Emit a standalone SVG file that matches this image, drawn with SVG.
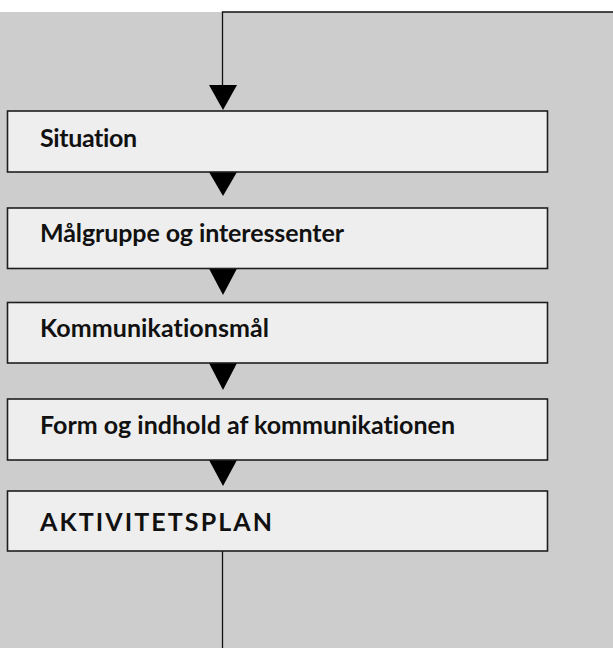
<svg xmlns="http://www.w3.org/2000/svg" width="613" height="648" viewBox="0 0 613 648">
<style>
.bg{fill:#cdcdcd}
.box{fill:#eeeeee;stroke:#1e1e1e;stroke-width:1.6}
.lbl{font-family:Lato,"Open Sans","Liberation Sans",sans-serif;font-weight:700;font-size:25px;fill:#111;font-variant-ligatures:none;font-feature-settings:"liga" 0}
.line{stroke:#111;stroke-width:1.3;fill:none}
.head{fill:#000}
</style>
<rect class="bg" x="0" y="12" width="613" height="636"/>
<g id="connectors">
<polyline class="line" points="613,12 222.5,12 222.5,86"/>
<polygon class="head" points="209,85 237,85 223,110"/>
<polygon class="head" points="209,172 237,172 223,196"/>
<polygon class="head" points="209,268.5 237,268.5 223,295"/>
<polygon class="head" points="209,363 237,363 223,390"/>
<polygon class="head" points="209,460 237,460 223,486"/>
<line class="line" x1="222.5" y1="551" x2="222.5" y2="648"/>
</g>
<g id="situation">
<rect class="box" x="7.5" y="111" width="540" height="61"/>
<text class="lbl" x="40" y="146.5" textLength="97">Situation</text>
</g>
<g id="malgruppe">
<rect class="box" x="7.5" y="208" width="540" height="60.5"/>
<text class="lbl" x="40" y="242" textLength="304">Målgruppe og interessenter</text>
</g>
<g id="kommunikationsmal">
<rect class="box" x="7.5" y="302.5" width="540" height="60.5"/>
<text class="lbl" x="40" y="336.5" textLength="229">Kommunikationsmål</text>
</g>
<g id="form">
<rect class="box" x="7.5" y="399" width="540" height="61"/>
<text class="lbl" x="40" y="433.5" textLength="415">Form og indhold af kommunikationen</text>
</g>
<g id="aktivitetsplan">
<rect class="box" x="7.5" y="491" width="540" height="60"/>
<text class="lbl" x="40" y="530.5" textLength="232">AKTIVITETSPLAN</text>
</g>
</svg>
